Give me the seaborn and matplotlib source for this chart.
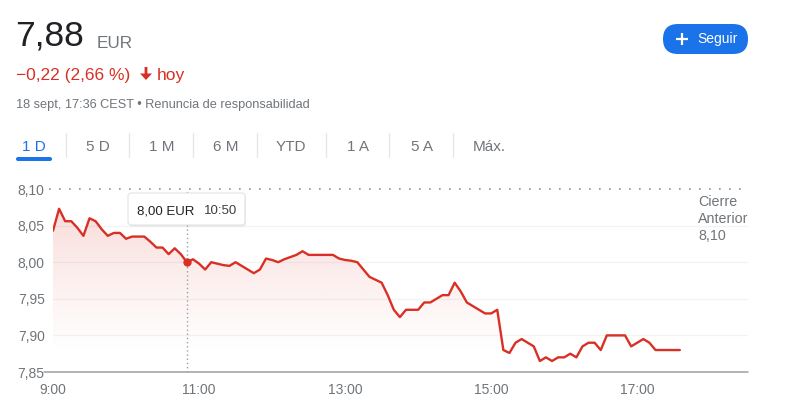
import numpy as np
import pandas as pd
import matplotlib
matplotlib.use("Agg")
import matplotlib.pyplot as plt
from matplotlib.patches import FancyBboxPatch, Polygon
from matplotlib.colors import to_rgb
import seaborn as sns

# Intraday prices, one reading every 5 minutes from the 9:00 open
prices = [
    8.043, 8.073, 8.056, 8.056, 8.047, 8.036, 8.060, 8.056, 8.045, 8.036,
    8.040, 8.040, 8.032, 8.035, 8.035, 8.035, 8.028, 8.020, 8.020, 8.011,
    8.019, 8.011, 8.000, 8.004, 7.998, 7.990, 8.000, 7.998, 7.996, 7.995,
    8.000, 7.995, 7.990, 7.985, 7.990, 8.005, 8.003, 8.000, 8.004, 8.007,
    8.010, 8.015, 8.010, 8.010, 8.010, 8.010, 8.010, 8.005, 8.003, 8.002,
    8.000, 7.990, 7.980, 7.976, 7.972, 7.955, 7.935, 7.925, 7.935, 7.935,
    7.935, 7.945, 7.945, 7.950, 7.955, 7.955, 7.972, 7.960, 7.945, 7.940,
    7.935, 7.930, 7.930, 7.935, 7.880, 7.876, 7.890, 7.895, 7.890, 7.885,
    7.865, 7.870, 7.865, 7.870, 7.870, 7.875, 7.870, 7.885, 7.890, 7.890,
    7.880, 7.900, 7.900, 7.900, 7.900, 7.885, 7.890, 7.895, 7.890, 7.880,
    7.880, 7.880, 7.880, 7.880,
]
session_open = "2023-09-18 09:00"
tick_hours = [9, 11, 13, 15, 17]
tick_labels = ["9:00", "11:00", "13:00", "15:00", "17:00"]
price_ticks = [7.85, 7.90, 7.95, 8.00, 8.05, 8.10]
previous_close = 8.10
hover_time = "10:50"
last_price = "7,88"
currency = "EUR"
change_text = "\u22120,22 (2,66 %)"
stamp_text = "18 sept, 17:36 CEST \u2022 Renuncia de responsabilidad"
ranges = ["1 D", "5 D", "1 M", "6 M", "YTD", "1 A", "5 A", "M\u00e1x."]


def fmt(v):
    return f"{v:.2f}".replace(".", ",")


stamps = pd.date_range(session_open, periods=len(prices), freq="5min")
df = pd.DataFrame({"time": stamps, "price": prices})
df["minutes"] = (df["time"] - df["time"].iloc[0]).dt.total_seconds() / 60

RED = "#d93025"
BLUE = "#1a73e8"
GREY = "#70757a"

sns.set_theme(style="white")
plt.rcParams["font.family"] = ["Liberation Sans", "DejaVu Sans"]

W, H = 800, 411
fig = plt.figure(figsize=(W / 100, H / 100), dpi=100)
fig.patch.set_facecolor("white")


def px_rect(l, t, r, b):
    return [l / W, 1 - b / H, (r - l) / W, (b - t) / H]


ax = fig.add_axes(px_rect(53, 189, 748, 372), zorder=1)
ax.set_facecolor("none")
xmax = 571
ymin, ymax = 7.85, 8.10
px_min = 60 / 73  # minutes per pixel

# faint horizontal grid
for v in price_ticks[1:-1]:
    ax.axhline(v, color="#f3f3f3", lw=0.9, zorder=0)

# gradient area under the price line
area = ax.fill_between(df["minutes"], df["price"], ymin, color="none", lw=0)
ys = np.linspace(ymin, ymax, 256)
img = np.zeros((256, 1, 4))
img[..., :3] = to_rgb(RED)
img[:, 0, 3] = 0.17 * np.clip((ys - 7.875) / (8.08 - 7.875), 0, 1) ** 1.1
im = ax.imshow(img, extent=[0, df["minutes"].max(), ymin, ymax],
               origin="lower", aspect="auto", zorder=1, interpolation="bilinear")
im.set_clip_path(area.get_paths()[0], transform=ax.transData)

# previous close dotted line
ax.plot([-4 * px_min, xmax], [previous_close, previous_close], color="#8d9298",
        lw=1.2, ls=(0, (1, 5)), clip_on=False, zorder=2)

# hover guide
hover = df[df["time"].dt.strftime("%H:%M") == hover_time].iloc[0]
ax.plot([hover["minutes"], hover["minutes"]], [ymin, ymax], color="#9aa0a6",
        lw=1.0, ls=(0, (1, 2)), zorder=2)

sns.lineplot(data=df, x="minutes", y="price", color=RED, lw=1.7, ax=ax,
             zorder=3)
ax.scatter([hover["minutes"]], [hover["price"]], s=36, color=RED, zorder=4,
           linewidths=0)

# bottom axis line
ax.plot([-9 * px_min, xmax], [ymin, ymin], color="#9aa0a6", lw=1.1,
        clip_on=False, zorder=2)

ax.set_xlim(0, xmax)
ax.set_ylim(ymin, ymax)
ax.set_xticks([(h - 9) * 60 for h in tick_hours])
ax.set_xticklabels(tick_labels)
ax.set_yticks(price_ticks)
ax.set_yticklabels([fmt(v) for v in price_ticks])
ax.tick_params(axis="x", length=5, width=1, color="#9aa0a6", pad=3,
               labelsize=10, labelcolor=GREY)
ax.tick_params(axis="y", length=0, pad=6, labelsize=10, labelcolor=GREY)
ax.set_xlabel("")
ax.set_ylabel("")
for s in ax.spines.values():
    s.set_visible(False)

# overlay in pixel coordinates for header, tabs, tooltip and close label
ov = fig.add_axes([0, 0, 1, 1], zorder=10)
ov.set_xlim(0, W)
ov.set_ylim(H, 0)
ov.axis("off")
ov.patch.set_alpha(0)

ov.text(15, 46, last_price, fontsize=25.5, color="#202124", va="baseline")
ov.text(97, 48, currency, fontsize=12.3, color=GREY, va="baseline")
ov.text(16, 80, change_text, fontsize=12.5, color=RED, va="baseline")
ov.add_patch(Polygon([[144.6, 67], [147.4, 67], [147.4, 73.5], [152, 73.5],
                      [146, 80], [140, 73.5], [144.6, 73.5]],
                     closed=True, fc=RED, ec="none"))
ov.text(157, 80, "hoy", fontsize=12.5, color=RED, va="baseline")
ov.text(16, 108, stamp_text, fontsize=9.2, color=GREY, va="baseline")

# follow button
ov.add_patch(FancyBboxPatch((663, 24), 85, 30,
                            boxstyle="round,pad=0,rounding_size=15",
                            fc=BLUE, ec="none"))
ov.plot([676, 688], [39.5, 39.5], color="white", lw=1.6,
        solid_capstyle="butt")
ov.plot([682, 682], [33.5, 45.5], color="white", lw=1.6,
        solid_capstyle="butt")
ov.text(697, 43.5, "Seguir", fontsize=10, color="white", va="baseline")

# range tabs
tab_x = [34, 98, 162, 226, 291, 358, 422, 489]
for i, (lab, x) in enumerate(zip(ranges, tab_x)):
    ov.text(x, 151, lab, fontsize=11, ha="center", va="baseline",
            color=BLUE if i == 0 else GREY)
for x in [66, 129, 193, 257, 326, 389, 453]:
    ov.plot([x, x], [133, 157], color="#e3e5e8", lw=0.9)
ov.add_patch(FancyBboxPatch((16, 157), 36, 4,
                            boxstyle="round,pad=0,rounding_size=2",
                            fc=BLUE, ec="none"))

# tooltip
ov.add_patch(FancyBboxPatch((129, 194.5), 117, 32,
                            boxstyle="round,pad=0,rounding_size=3",
                            fc="black", ec="none", alpha=0.07))
ov.add_patch(FancyBboxPatch((128, 193), 117, 32,
                            boxstyle="round,pad=0,rounding_size=3",
                            fc="white", ec="#e2e3e5", lw=0.8))
ov.text(137, 214, f"{fmt(hover['price'])} {currency}", fontsize=9.5,
        color="#202124", va="baseline")
ov.text(204, 214, hover_time, fontsize=9.5, color="#3c4043", va="baseline")

# previous close label
for y, line in zip([206, 223, 240], ["Cierre", "Anterior", fmt(previous_close)]):
    ov.text(698, y, line, fontsize=10.3, color=GREY, va="baseline")

fig.savefig("out.png", dpi=100)
